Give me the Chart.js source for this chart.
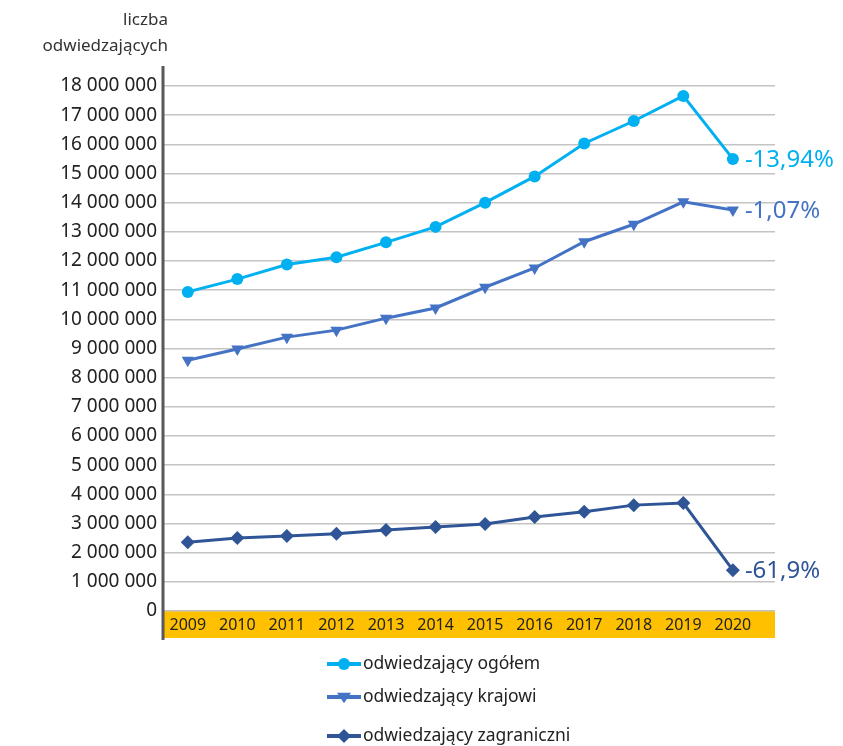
<!DOCTYPE html>
<html>
<head>
<meta charset="utf-8">
<script src="https://cdn.jsdelivr.net/npm/chart.js@4.4.1/dist/chart.umd.min.js"></script>
<style>
  html, body { margin: 0; padding: 0; background: #fff; }
  #wrap { width: 843px; height: 746px; position: relative; }
</style>
</head>
<body>
<div id="wrap"><canvas id="visitors"></canvas></div>
<script>
/* visitors 2009-2020: total / domestic / foreign */

var years = [2009, 2010, 2011, 2012, 2013, 2014, 2015, 2016, 2017, 2018, 2019, 2020];
var seriesNames = ['odwiedzający ogółem', 'odwiedzający krajowi', 'odwiedzający zagraniczni'];
var ogolem = [10940000, 11380000, 11880000, 12130000, 12640000, 13170000, 14000000, 14900000, 16030000, 16800000, 17660000, 15500000];
var krajowi = [8600000, 8980000, 9390000, 9630000, 10040000, 10390000, 11100000, 11760000, 12660000, 13260000, 14030000, 13750000];
var zagraniczni = [2360000, 2500000, 2570000, 2650000, 2780000, 2880000, 2980000, 3220000, 3400000, 3630000, 3700000, 1400000];
var changeLabels = ['-13,94%', '-1,07%', '-61,9%'];
var yTitle = ['liczba', 'odwiedzających'];

var FONT = '"Noto Sans", "DejaVu Sans", sans-serif';
var colors = ['#00B0F0', '#4472C4', '#2F5597'];
var pointStyles = ['circle', 'triangle', 'rectRot'];

function spaced(n) {
  return String(n).replace(/\B(?=(\d{3})+(?!\d))/g, ' ');
}

function pairs(values) {
  return values.map(function (v, i) { return { x: years[i], y: v }; });
}

function drawMarker(ctx, style, x, y, r, color) {
  ctx.save();
  ctx.fillStyle = color;
  ctx.beginPath();
  if (style === 'circle') {
    ctx.arc(x, y, r, 0, Math.PI * 2);
  } else if (style === 'triangle') {
    ctx.moveTo(x - r, y - r * 0.6);
    ctx.lineTo(x + r, y - r * 0.6);
    ctx.lineTo(x, y + r * 0.9);
    ctx.closePath();
  } else {
    ctx.moveTo(x, y - r);
    ctx.lineTo(x + r, y);
    ctx.lineTo(x, y + r);
    ctx.lineTo(x - r, y);
    ctx.closePath();
  }
  ctx.fill();
  ctx.restore();
}

var decor = {
  id: 'decor',
  beforeDraw: function (chart) {
    var ctx = chart.ctx;
    var area = chart.chartArea;
    var y0 = chart.scales.y.getPixelForValue(0);
    ctx.save();
    ctx.fillStyle = '#FFC000';
    ctx.fillRect(area.left, y0 - 1, area.right - area.left, 28);
    ctx.restore();
  },
  afterDraw: function (chart) {
    var ctx = chart.ctx;
    var area = chart.chartArea;
    ctx.save();

    // left axis line
    ctx.strokeStyle = '#595959';
    ctx.lineWidth = 3;
    ctx.beginPath();
    ctx.moveTo(area.left, 66);
    ctx.lineTo(area.left, 640);
    ctx.stroke();

    // axis title
    ctx.fillStyle = '#333';
    ctx.font = '17px ' + FONT;
    ctx.textAlign = 'right';
    ctx.textBaseline = 'middle';
    ctx.fillText(yTitle[0], 168, 20);
    ctx.fillText(yTitle[1], 168, 46);

    // % change labels next to last points
    ctx.font = '24px ' + FONT;
    ctx.textAlign = 'left';
    chart.data.datasets.forEach(function (ds, i) {
      var meta = chart.getDatasetMeta(i);
      var pt = meta.data[meta.data.length - 1];
      ctx.fillStyle = colors[i];
      ctx.fillText(changeLabels[i], pt.x + 12, pt.y + 1);
    });

    // legend
    var rows = [664, 697, 736];
    ctx.font = '17.5px ' + FONT;
    seriesNames.forEach(function (name, i) {
      var y = rows[i];
      ctx.strokeStyle = colors[i];
      ctx.lineWidth = 4;
      ctx.beginPath();
      ctx.moveTo(327, y);
      ctx.lineTo(361, y);
      ctx.stroke();
      drawMarker(ctx, pointStyles[i], 344, y, i === 0 ? 6 : 7, colors[i]);
      ctx.fillStyle = '#222';
      ctx.fillText(name, 363, y);
    });

    ctx.restore();
  }
};

var series = [ogolem, krajowi, zagraniczni];

new Chart(document.getElementById('visitors'), {
  type: 'line',
  data: {
    datasets: series.map(function (vals, i) {
      return {
        label: seriesNames[i],
        data: pairs(vals),
        borderColor: colors[i],
        backgroundColor: colors[i],
        borderWidth: 3,
        pointStyle: pointStyles[i],
        pointRotation: i === 1 ? 180 : 0,
        pointRadius: i === 0 ? 6 : 7,
        pointBorderWidth: 0,
        tension: 0,
        fill: false
      };
    })
  },
  options: {
    responsive: true,
    maintainAspectRatio: false,
    animation: false,
    layout: { padding: { left: 0, right: 68, top: 86, bottom: 108 } },
    plugins: {
      legend: { display: false },
      tooltip: { enabled: false }
    },
    scales: {
      x: {
        type: 'linear',
        min: 2008.5,
        max: 2020.85,
        grid: { display: false, drawTicks: false },
        border: { display: false },
        afterBuildTicks: function (scale) {
          scale.ticks = years.map(function (y) { return { value: y }; });
        },
        afterFit: function (scale) { scale.height = 27; },
        ticks: {
          padding: 5,
          color: '#222',
          font: { family: FONT, size: 16 },
          maxRotation: 0,
          autoSkip: false,
          callback: function (v) { return String(v); }
        }
      },
      y: {
        min: 0,
        max: 18000000,
        afterFit: function (scale) { scale.width = 163; },
        grid: { color: '#C4C4C4', lineWidth: 1.5, drawTicks: false },
        border: { display: false },
        ticks: {
          stepSize: 1000000,
          padding: 6,
          color: '#222',
          font: { family: FONT, size: 19 },
          callback: function (v) { return spaced(v); }
        }
      }
    }
  },
  plugins: [decor]
});
</script>
</body>
</html>
